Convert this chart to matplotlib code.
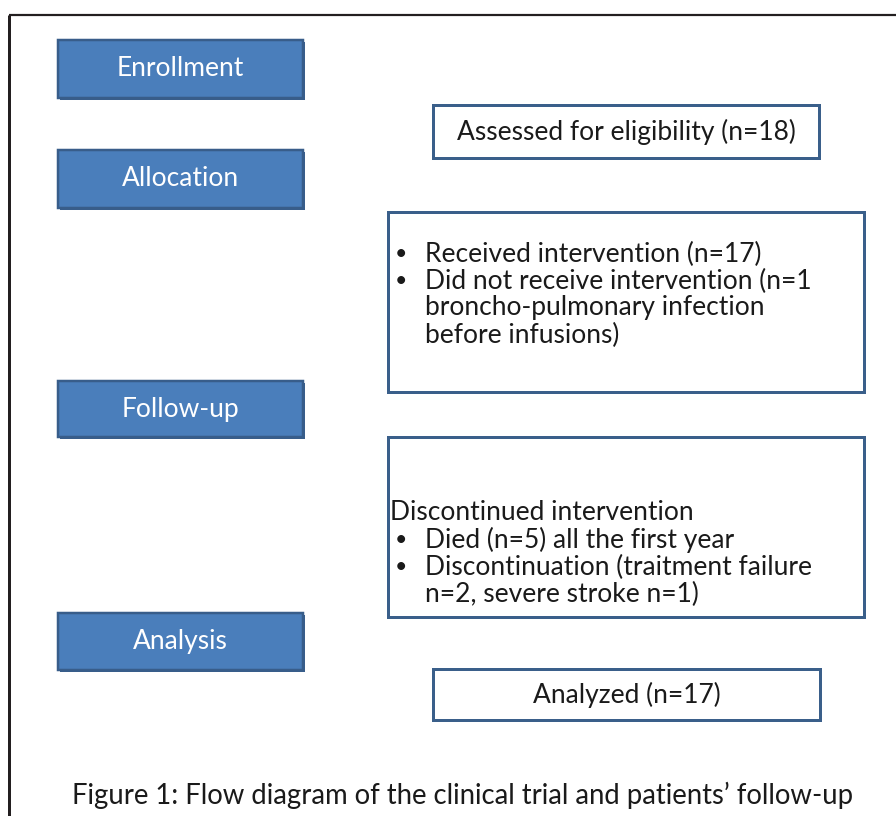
import matplotlib
matplotlib.use("Agg")
import matplotlib.pyplot as plt
from matplotlib.patches import Rectangle

# stage labels (blue boxes on the left)
stages = ["Enrollment", "Allocation", "Follow-up", "Analysis"]

# white boxes on the right: list of (kind, text) lines
box_lines = [
    [("c", "Assessed for eligibility (n=18)")],
    [("b", "Received intervention (n=17)"),
     ("b", "Did not receive intervention (n=1"),
     ("i", "broncho-pulmonary infection"),
     ("i", "before infusions)")],
    [("t", "Discontinued intervention"),
     ("b", "Died (n=5) all the first year"),
     ("b", "Discontinuation (traitment failure"),
     ("i", "n=2, severe stroke n=1)")],
    [("c", "Analyzed (n=17)")],
]

caption = "Figure 1: Flow diagram of the clinical trial and patients\u2019 follow-up"

# layout in pixels (x0, y0, x1, y1)
stage_pos = [(58, 40, 303, 98), (58, 150, 303, 208),
             (58, 381, 303, 437), (58, 613, 303, 670)]
box_pos = [(433, 105, 819, 158), (388, 212, 864, 392),
           (388, 437, 864, 617), (433, 669, 820, 720)]
first_line = [None, 254, 513, None]
line_gap = 27

W, H = 896, 816
fig = plt.figure(figsize=(W / 100, H / 100), dpi=100)
ax = fig.add_axes([0, 0, 1, 1])
ax.set_xlim(0, W)
ax.set_ylim(H, 0)
ax.axis("off")

plt.rcParams["font.family"] = ["Lato", "DejaVu Sans"]
fs = 19
px = 72 / 100
ink = "#1a1a1a"

# outer frame (top and left edges only visible)
ax.plot([9, W + 5], [15, 15], color="#231f20", lw=2.2 * px, solid_capstyle="butt")
ax.plot([9, 9], [15, H + 5], color="#231f20", lw=3 * px, solid_capstyle="butt")

for label, (x0, y0, x1, y1) in zip(stages, stage_pos):
    ax.add_patch(Rectangle((x0 + 1.5, y0 + 1.5), x1 - x0, y1 - y0,
                           facecolor="#385d8a", edgecolor="none"))
    ax.add_patch(Rectangle((x0, y0), x1 - x0, y1 - y0,
                           facecolor="#4a7ebb", edgecolor="#385d8a", lw=2.5 * px))
    ax.text((x0 + x1) / 2, (y0 + y1) / 2, label, color="white", fontsize=fs,
            ha="center", va="center")

for lines, (x0, y0, x1, y1), fl in zip(box_lines, box_pos, first_line):
    ax.add_patch(Rectangle((x0, y0), x1 - x0, y1 - y0,
                           facecolor="white", edgecolor="#3a5f8a", lw=3 * px))
    for k, (kind, txt) in enumerate(lines):
        if kind == "c":
            ax.text((x0 + x1) / 2, (y0 + y1) / 2, txt, color=ink,
                    fontsize=fs, ha="center", va="center")
            continue
        y = fl + k * line_gap
        if kind == "t":
            ax.text(x0 + 2, y, txt, color=ink, fontsize=fs, va="center")
        else:
            if kind == "b":
                ax.text(x0 + 7, y, "\u2022", color=ink, fontsize=fs * 0.8, va="center")
            ax.text(x0 + 37, y, txt, color=ink, fontsize=fs, va="center")

ax.text(463, 795, caption, color=ink, fontsize=19.8, ha="center", va="center")

fig.savefig("out.png", dpi=100)
